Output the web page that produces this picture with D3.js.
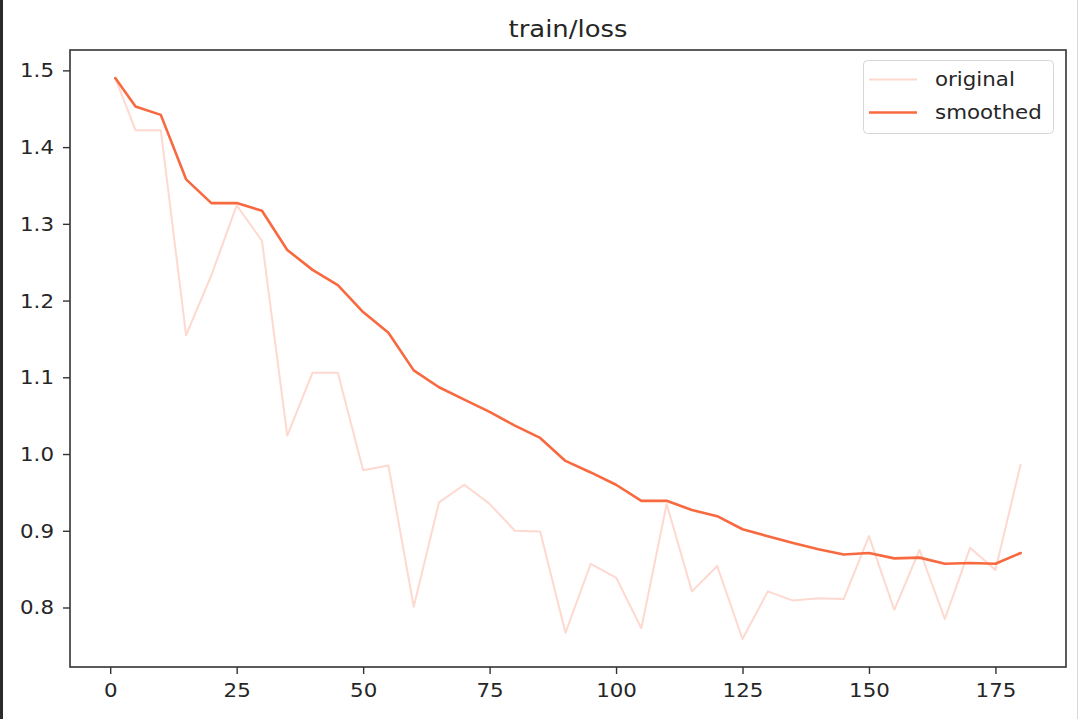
<!DOCTYPE html>
<html>
<head>
<meta charset="utf-8">
<script src="https://cdn.jsdelivr.net/npm/d3@7"></script>
<style>
  html, body { margin: 0; padding: 0; background: #fff; }
  svg { display: block; }
  text { font-family: "DejaVu Sans", sans-serif; fill: #262626; }
</style>
</head>
<body>
<svg id="chart" width="1080" height="719"></svg>
<script>
// ---- data ----
const steps = [1,5,10,15,20,25,30,35,40,45,50,55,60,65,70,75,80,85,90,95,100,105,110,115,120,125,130,135,140,145,150,155,160,165,170,175,180];
const original = [1.490,1.422,1.422,1.155,1.233,1.324,1.278,1.024,1.106,1.106,0.979,0.985,0.801,0.937,0.960,0.935,0.900,0.899,0.767,0.857,0.839,0.773,0.935,0.821,0.854,0.759,0.821,0.809,0.812,0.811,0.893,0.797,0.875,0.785,0.878,0.849,0.987];
const smoothed = [1.490,1.453,1.442,1.358,1.327,1.327,1.317,1.266,1.240,1.220,1.185,1.158,1.109,1.087,1.071,1.055,1.037,1.021,0.991,0.976,0.960,0.939,0.939,0.927,0.919,0.902,0.893,0.884,0.876,0.869,0.871,0.864,0.865,0.857,0.858,0.857,0.871];
const xTicks = [0,25,50,75,100,125,150,175];
const yTicks = [0.8,0.9,1.0,1.1,1.2,1.3,1.4,1.5];
const seriesNames = ["original","smoothed"];
const title = "train/loss";

const color = "#f8693f";
const SX = 1.125; // horizontal stretch of text

const svg = d3.select("#chart");
// frame edges of the screenshot
svg.append("rect").attr("x",0).attr("y",0).attr("width",1080).attr("height",719).attr("fill","#fff");
svg.append("rect").attr("x",0).attr("y",0).attr("width",3).attr("height",719).attr("fill","#2b2b2b");
svg.append("rect").attr("x",1077).attr("y",0).attr("width",1).attr("height",719).attr("fill","#d8d8d8");

const L = 70, R = 1066, T = 50, B = 667;

const allY = original.concat(smoothed);
const ymin = d3.min(allY), ymax = d3.max(allY);
const ypad = (ymax - ymin) * 0.05;
const xmin = d3.min(steps), xmax = d3.max(steps);
const xpad = (xmax - xmin) * 0.05;

const x = d3.scaleLinear().domain([xmin - xpad, xmax + xpad]).range([L, R]);
const y = d3.scaleLinear().domain([ymin - ypad, ymax + ypad]).range([B, T]);

const line = d3.line().x((d,i) => x(steps[i])).y(d => y(d));

svg.append("path").datum(original)
  .attr("d", line).attr("fill","none")
  .attr("stroke", color).attr("stroke-opacity", 0.25).attr("stroke-width", 2)
  .attr("stroke-linejoin","round");
svg.append("path").datum(smoothed)
  .attr("d", line).attr("fill","none")
  .attr("stroke", color).attr("stroke-width", 2.6)
  .attr("stroke-linejoin","round").attr("stroke-linecap","round");

// axes
const xAxis = svg.append("g").attr("transform", `translate(0,${B})`)
  .call(d3.axisBottom(x).tickValues(xTicks).tickFormat(d3.format("d")).tickSize(7).tickPadding(9));
const yAxis = svg.append("g").attr("transform", `translate(${L},0)`)
  .call(d3.axisLeft(y).tickValues(yTicks).tickFormat(d3.format(".1f")).tickSize(7).tickPadding(9));

[xAxis, yAxis].forEach(g => {
  g.select(".domain").remove();
  g.selectAll(".tick line").attr("stroke","#333").attr("stroke-width",1.4);
  g.selectAll(".tick text").attr("font-size", 19).attr("fill","#262626")
    .attr("font-family","DejaVu Sans, sans-serif");
});
xAxis.selectAll(".tick text").attr("transform", `scale(${SX},1)`).attr("y", 17).attr("dy","0.71em");
yAxis.selectAll(".tick text").attr("transform", `scale(${SX},1)`).attr("x", -16 / SX).attr("dy","0.34em");

// spines
svg.append("rect").attr("x", L).attr("y", T).attr("width", R - L).attr("height", B - T)
  .attr("fill","none").attr("stroke","#333").attr("stroke-width",1.6);

// title
svg.append("text").attr("transform", `translate(${(L+R)/2},37) scale(${SX},1)`)
  .attr("text-anchor","middle").attr("font-size", 23).text(title);

// legend
const lg = svg.append("g");
lg.append("rect").attr("x", 863.5).attr("y", 60.5).attr("width", 190).attr("height", 73)
  .attr("rx", 4).attr("fill","#fff").attr("fill-opacity",0.8).attr("stroke","#d6d6d6").attr("stroke-width",1);
const items = [
  {name: seriesNames[0], op: 0.25, w: 2, yy: 79.5},
  {name: seriesNames[1], op: 1, w: 2.6, yy: 112.5}
];
items.forEach(it => {
  lg.append("line").attr("x1", 869).attr("x2", 917).attr("y1", it.yy).attr("y2", it.yy)
    .attr("stroke", color).attr("stroke-opacity", it.op).attr("stroke-width", it.w);
  lg.append("text").attr("transform", `translate(935,${it.yy}) scale(${SX},1)`)
    .attr("dy","0.34em").attr("font-size", 19).text(it.name);
});
</script>
</body>
</html>
